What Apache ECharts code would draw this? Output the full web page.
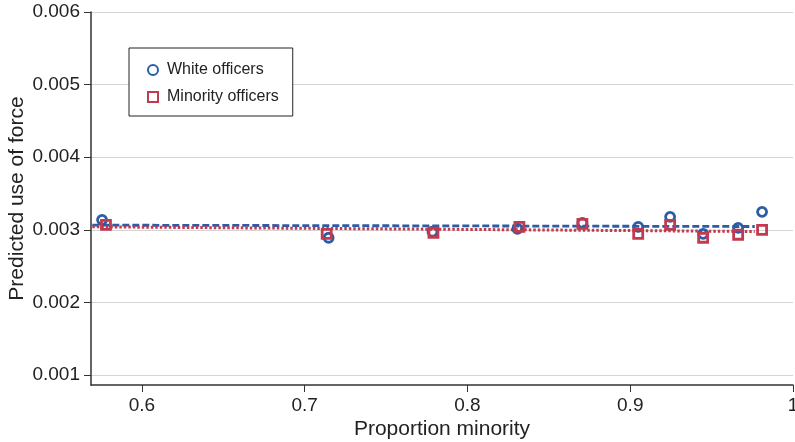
<!DOCTYPE html>
<html>
<head>
<meta charset="utf-8">
<script src="https://cdn.jsdelivr.net/npm/echarts@6/dist/echarts.min.js"></script>
<style>
  html, body { margin: 0; padding: 0; background: #fff; }
  #chart { width: 795px; height: 442px; }
</style>
</head>
<body>
<div id="chart"></div>
<script>
// proportion minority / predicted use of force
const whiteX = [0.5755, 0.7147, 0.7785, 0.8307, 0.8706, 0.9049, 0.9245, 0.9448, 0.9663, 0.9810]
const whiteY = [0.003137, 0.00289, 0.002973, 0.003014, 0.003096, 0.003041, 0.003178, 0.002945, 0.003027, 0.003247]
const minorityX = [0.5779, 0.7135, 0.7791, 0.8319, 0.8706, 0.9049, 0.9245, 0.9448, 0.9663, 0.9810]
const minorityY = [0.003068, 0.002945, 0.002959, 0.003041, 0.003082, 0.002945, 0.003068, 0.00289, 0.002932, 0.003000]

// fitted lines (end points)
const whiteFitX = [0.5695, 0.9765]
const whiteFitY = [0.003064, 0.003045]
const minorityFitX = [0.5695, 0.9765]
const minorityFitY = [0.003041, 0.002977]

// ticks
const xTicks = [0.6, 0.7, 0.8, 0.9, 1]
const yTicks = [0.001, 0.002, 0.003, 0.004, 0.005, 0.006]

const zip = (xs, ys) => xs.map((x, i) => [x, ys[i]])

const blue = '#2b5ca6'
const red = '#c23a4d'
const font = 'Liberation Sans'

const myChart = echarts.init(document.getElementById('chart'))
const option = {
  animation: false,
  textStyle: { fontFamily: font },
  grid: { left: 91, right: 2, top: 12, bottom: 57, containLabel: false, outerBoundsMode: 'none' },
  legend: {
    data: ['White officers', 'Minority officers'],
    orient: 'vertical',
    left: 129,
    top: 48,
    padding: [14, 14, 11, 18],
    itemGap: 11,
    itemWidth: 10,
    itemHeight: 10,
    borderColor: '#222',
    borderWidth: 1,
    backgroundColor: '#fff',
    textStyle: { fontSize: 16, color: '#222', fontFamily: font, padding: [0, 0, 0, 4] }
  },
  xAxis: {
    type: 'value',
    min: 0.5687,
    max: 1,
    name: 'Proportion minority',
    nameLocation: 'middle',
    nameGap: 34,
    nameMoveOverlap: false,
    nameTextStyle: { fontSize: 21, color: '#222', fontFamily: font },
    axisLine: { show: true, lineStyle: { color: '#333', width: 1.5 } },
    axisTick: { show: true, length: 7, customValues: xTicks, lineStyle: { color: '#333' } },
    axisLabel: {
      customValues: xTicks,
      fontSize: 19,
      color: '#222',
      margin: 11,
      formatter: v => String(+v.toFixed(1))
    },
    splitLine: { show: false }
  },
  yAxis: {
    type: 'value',
    min: 0.000862,
    max: 0.006,
    name: 'Predicted use of force',
    nameLocation: 'middle',
    nameGap: 63,
    nameMoveOverlap: false,
    nameTextStyle: { fontSize: 21, color: '#222', fontFamily: font },
    axisLine: { show: true, lineStyle: { color: '#333', width: 1.5 } },
    axisTick: { show: true, length: 7, customValues: yTicks, lineStyle: { color: '#333' } },
    axisLabel: {
      customValues: yTicks,
      fontSize: 19,
      color: '#222',
      margin: 11,
      formatter: v => v.toFixed(3)
    },
    splitLine: { show: true, lineStyle: { color: '#d4d4d4', width: 1 } }
  },
  series: [
    {
      name: 'White fit',
      type: 'line',
      data: zip(whiteFitX, whiteFitY),
      symbol: 'none',
      lineStyle: { color: blue, width: 2.8, type: [7, 3] },
      z: 1
    },
    {
      name: 'Minority fit',
      type: 'line',
      data: zip(minorityFitX, minorityFitY),
      symbol: 'none',
      lineStyle: { color: red, width: 3, type: [2.5, 2] },
      z: 1
    },
    {
      name: 'White officers',
      type: 'scatter',
      data: zip(whiteX, whiteY),
      symbol: 'circle',
      symbolSize: 9,
      itemStyle: { color: 'rgba(0,0,0,0)', borderColor: blue, borderWidth: 2.8, opacity: 1 },
      z: 2
    },
    {
      name: 'Minority officers',
      type: 'scatter',
      data: zip(minorityX, minorityY),
      symbol: 'rect',
      symbolSize: 9,
      itemStyle: { color: 'rgba(0,0,0,0)', borderColor: red, borderWidth: 2.8, opacity: 1 },
      z: 3
    }
  ]
}
myChart.setOption(option)
</script>
</body>
</html>
